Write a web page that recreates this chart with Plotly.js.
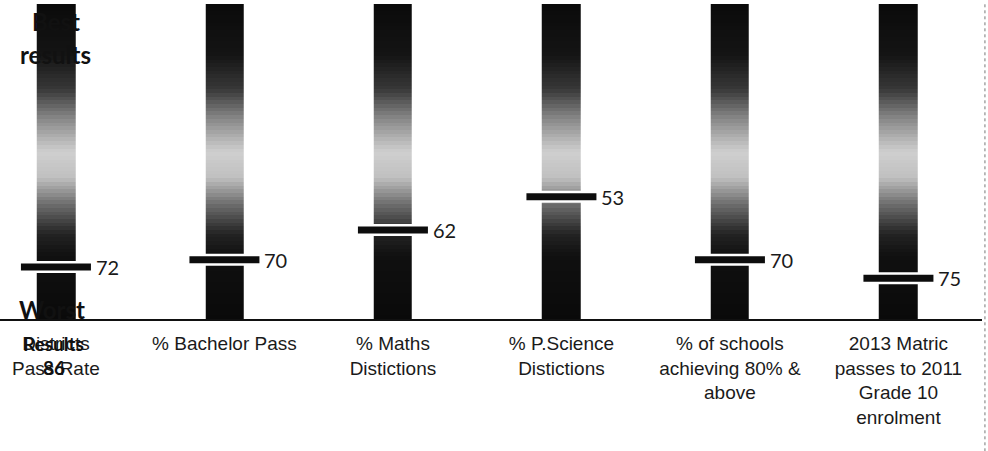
<!DOCTYPE html>
<html>
<head>
<meta charset="utf-8">
<script src="https://cdn.plot.ly/plotly-3.0.1.min.js"></script>
<style>
  html, body { margin: 0; padding: 0; background: #ffffff; }
  #chart { width: 988px; height: 451px; }
</style>
</head>
<body>
<div id="chart"></div>
<script>
// ---- data ----
const categories = ["Districts Pass Rate", "% Bachelor Pass", "% Maths Distictions",
                    "% P.Science Distictions", "% of schools achieving 80% & above",
                    "2013 Matric passes to 2011 Grade 10 enrolment"];
const tickLabels = ["Districts<br>Pass Rate", "% Bachelor Pass", "% Maths<br>Distictions",
                    "% P.Science<br>Distictions", "% of schools<br>achieving 80% &<br>above",
                    "2013 Matric<br>passes to 2011<br>Grade 10<br>enrolment"];
const ranks = [72, 70, 62, 53, 70, 75];
const bestRank = 1;
const worstRank = 86;

// ---- gradient columns (one heatmap, cells coloured by their rank position) ----
const yEdges = [];
for (let r = bestRank; r <= worstRank; r++) yEdges.push(r);
const zRows = [];
for (let i = 0; i < yEdges.length - 1; i++) {
  const mid = (yEdges[i] + yEdges[i + 1]) / 2;
  zRows.push(categories.map(() => mid));
}

const gradient = {
  type: 'heatmap',
  x: categories,
  y: yEdges,
  z: zRows,
  zmin: bestRank, zmax: worstRank,
  xgap: 130,
  ygap: 0,
  showscale: false,
  hoverinfo: 'skip',
  colorscale: [
    [0.00, '#0a0a0a'],
    [0.16, '#141414'],
    [0.27, '#383838'],
    [0.37, '#8c8c8c'],
    [0.47, '#cfcfcf'],
    [0.55, '#c0c0c0'],
    [0.64, '#6a6a6a'],
    [0.73, '#242424'],
    [0.80, '#101010'],
    [1.00, '#0a0a0a']
  ]
};

const markerHalo = {
  type: 'scatter', mode: 'markers',
  x: categories, y: ranks,
  marker: { symbol: 'line-ew', size: 40, line: { width: 12, color: '#ffffff' } },
  hoverinfo: 'skip', showlegend: false
};
const markerBar = {
  type: 'scatter', mode: 'markers',
  x: categories, y: ranks,
  marker: { symbol: 'line-ew', size: 50, line: { width: 7, color: '#0d0d0d' } },
  showlegend: false
};

const annotations = ranks.map((v, i) => ({
  x: categories[i], y: v, xref: 'x', yref: 'y',
  text: String(v), showarrow: false,
  xanchor: 'left', yanchor: 'middle', xshift: 38, yshift: 0,
  font: { family: 'Lato, sans-serif', size: 20, color: '#1a1a1a' }
}));

const axisFontBold = { family: 'Lato, sans-serif', size: 24, color: '#111111', weight: 'bold' };
annotations.push(
  { x: categories[0], y: bestRank, xref: 'x', yref: 'y', text: '<b>Best</b>', showarrow: false,
    xanchor: 'center', yanchor: 'top', yshift: -1, font: axisFontBold },
  { x: categories[0], y: bestRank, xref: 'x', yref: 'y', text: '<b>results</b>', showarrow: false,
    xanchor: 'center', yanchor: 'top', yshift: -34, font: axisFontBold },
  { x: categories[0], y: worstRank, xref: 'x', yref: 'y', text: '<b>Worst</b>', showarrow: false,
    xanchor: 'center', yanchor: 'middle', yshift: 10, xshift: -4, font: axisFontBold },
  { x: categories[0], y: worstRank, xref: 'x', yref: 'y', text: '<b>Results</b>', showarrow: false,
    xanchor: 'center', yanchor: 'middle', yshift: -24, xshift: -2,
    font: { family: 'Lato, sans-serif', size: 19, color: '#111111' } },
  { x: categories[0], y: worstRank, xref: 'x', yref: 'y', text: '<b>86</b>', showarrow: false,
    xanchor: 'center', yanchor: 'middle', yshift: -48, xshift: -2,
    font: { family: 'Lato, sans-serif', size: 19, color: '#111111' } }
);

const layout = {
  width: 988, height: 451,
  margin: { l: 0, r: 6, t: 4, b: 132 },
  paper_bgcolor: '#ffffff', plot_bgcolor: '#ffffff',
  showlegend: false,
  xaxis: {
    type: 'category',
    categoryarray: categories,
    range: [-0.332, 5.496],
    tickmode: 'array', tickvals: categories, ticktext: tickLabels,
    showline: true, linecolor: '#111111', linewidth: 2,
    showgrid: false, zeroline: false, ticks: '',
    ticklabelstandoff: 6,
    tickfont: { family: '"Liberation Sans", Arial, sans-serif', size: 19, color: '#1a1a1a' },
    fixedrange: true
  },
  yaxis: {
    range: [worstRank, bestRank],
    showline: false, showgrid: false, zeroline: false,
    showticklabels: false, ticks: '', fixedrange: true
  },
  annotations: annotations,
  shapes: [
    { type: 'line', xref: 'paper', yref: 'paper', x0: 1.003, x1: 1.003, y0: -0.42, y1: 1.0,
      line: { color: '#777777', width: 1, dash: 'dot' } }
  ]
};

Plotly.newPlot('chart', [gradient, markerHalo, markerBar], layout,
  { displayModeBar: false, staticPlot: true });
</script>
</body>
</html>
